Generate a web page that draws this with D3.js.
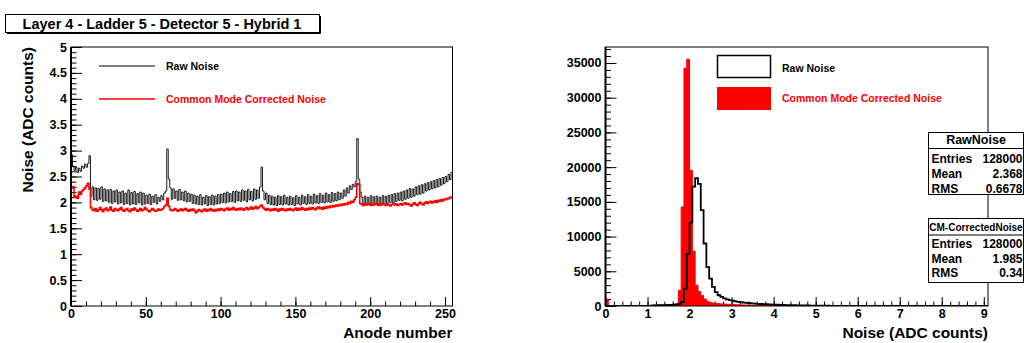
<!DOCTYPE html>
<html>
<head>
<meta charset="utf-8">
<script src="https://cdn.jsdelivr.net/npm/d3@7"></script>
<style>
  body { margin: 0; background: #fff; }
  svg { display: block; font-family: "Liberation Sans", Arial, Helvetica, sans-serif; font-weight: bold; }
</style>
</head>
<body>
<svg id="chart" width="1024" height="343"></svg>
<script>
// ---- data ----
// noise per anode channel (0..255)
let rawNoise = [
  2.92, 2.70, 2.62, 2.68, 2.58, 2.66, 2.60, 2.70, 2.66, 2.74, 2.68, 2.75, 2.90, 2.12, 2.30, 2.05,
  2.28, 2.04, 2.27, 2.06, 2.30, 2.02, 2.26, 2.03, 2.24, 2.00, 2.25, 1.98, 2.22, 2.01, 2.24, 1.97,
  2.20, 1.99, 2.22, 1.96, 2.18, 1.98, 2.24, 1.95, 2.19, 1.97, 2.21, 1.96, 2.17, 1.99, 2.20, 1.95,
  2.18, 1.97, 2.14, 1.98, 2.16, 1.96, 2.12, 2.00, 2.15, 1.97, 2.10, 2.02, 2.13, 2.05, 2.18, 2.22,
  3.03, 2.45, 2.28, 2.06, 2.26, 2.08, 2.22, 2.04, 2.25, 2.05, 2.20, 2.03, 2.22, 2.01, 2.18, 2.02,
  2.16, 1.98, 2.14, 1.97, 2.12, 1.96, 2.15, 1.95, 2.10, 1.97, 2.13, 1.94, 2.11, 1.96, 2.14, 1.95,
  2.12, 1.97, 2.15, 1.98, 2.16, 2.00, 2.18, 1.99, 2.20, 2.01, 2.17, 2.02, 2.21, 2.00, 2.22, 2.03,
  2.20, 2.02, 2.24, 2.04, 2.22, 2.01, 2.25, 2.05, 2.21, 2.03, 2.26, 2.06, 2.24, 2.08, 2.30, 2.68,
  2.22, 2.05, 2.18, 1.98, 2.14, 1.96, 2.12, 1.95, 2.10, 1.94, 2.13, 1.96, 2.11, 1.95, 2.14, 1.97,
  2.10, 1.95, 2.12, 1.96, 2.09, 1.94, 2.13, 1.97, 2.10, 1.95, 2.14, 1.98, 2.11, 1.96, 2.15, 1.98,
  2.12, 1.97, 2.16, 1.99, 2.13, 1.98, 2.17, 2.00, 2.14, 1.99, 2.18, 2.01, 2.15, 2.00, 2.19, 2.02,
  2.17, 2.03, 2.20, 2.05, 2.18, 2.08, 2.24, 2.12, 2.28, 2.18, 2.32, 2.25, 2.35, 2.30, 2.40, 3.23,
  2.45, 2.20, 2.10, 1.96, 2.12, 1.95, 2.10, 1.97, 2.13, 1.95, 2.11, 1.96, 2.12, 1.97, 2.10, 1.95,
  2.13, 1.98, 2.12, 1.97, 2.14, 2.00, 2.15, 1.99, 2.17, 2.02, 2.18, 2.04, 2.20, 2.03, 2.22, 2.06,
  2.24, 2.08, 2.27, 2.10, 2.26, 2.12, 2.30, 2.15, 2.32, 2.16, 2.34, 2.18, 2.36, 2.22, 2.38, 2.24,
  2.40, 2.26, 2.42, 2.28, 2.44, 2.30, 2.46, 2.33, 2.48, 2.36, 2.50, 2.40, 2.54, 2.44, 2.58, 2.62
];
let cmNoise = [
  2.28, 2.30, 2.10, 2.12, 2.08, 2.20, 2.16, 2.22, 2.25, 2.28, 2.32, 2.37, 2.26, 1.90, 1.86, 1.84,
  1.88, 1.83, 1.85, 1.90, 1.86, 1.82, 1.87, 1.89, 1.84, 1.86, 1.91, 1.85, 1.83, 1.88, 1.86, 1.84,
  1.87, 1.90, 1.85, 1.83, 1.86, 1.88, 1.84, 1.82, 1.87, 1.85, 1.89, 1.86, 1.83, 1.85, 1.88, 1.84,
  1.86, 1.90, 1.87, 1.84, 1.82, 1.85, 1.88, 1.86, 1.83, 1.84, 1.87, 1.85, 1.86, 1.88, 1.92, 1.95,
  2.08, 1.92, 1.86, 1.84, 1.85, 1.88, 1.86, 1.83, 1.85, 1.87, 1.84, 1.86, 1.88, 1.85, 1.83, 1.86,
  1.84, 1.87, 1.85, 1.80, 1.83, 1.86, 1.84, 1.82, 1.85, 1.87, 1.83, 1.86, 1.84, 1.88, 1.85, 1.83,
  1.86, 1.84, 1.87, 1.85, 1.88, 1.86, 1.84, 1.87, 1.89, 1.85, 1.88, 1.86, 1.90, 1.87, 1.85, 1.88,
  1.86, 1.89, 1.87, 1.85, 1.88, 1.90, 1.86, 1.88, 1.91, 1.87, 1.89, 1.92, 1.88, 1.90, 1.93, 1.95,
  1.90, 1.87, 1.85, 1.88, 1.86, 1.84, 1.87, 1.85, 1.88, 1.86, 1.83, 1.87, 1.85, 1.88, 1.86, 1.84,
  1.87, 1.85, 1.88, 1.86, 1.84, 1.87, 1.89, 1.85, 1.88, 1.86, 1.90, 1.87, 1.85, 1.88, 1.86, 1.89,
  1.87, 1.90, 1.88, 1.86, 1.89, 1.91, 1.88, 1.90, 1.87, 1.91, 1.89, 1.92, 1.90, 1.93, 1.91, 1.94,
  1.92, 1.95, 1.93, 1.96, 1.94, 1.97, 1.95, 1.98, 1.96, 2.00, 1.98, 2.02, 2.00, 2.05, 2.10, 2.36,
  2.34, 1.98, 1.96, 1.94, 1.97, 1.95, 1.98, 1.96, 1.94, 1.97, 1.95, 1.98, 1.96, 1.94, 1.97, 1.95,
  1.98, 1.96, 1.94, 1.97, 1.95, 1.93, 1.96, 1.98, 1.95, 1.97, 1.94, 1.96, 1.98, 1.95, 1.97, 1.99,
  1.96, 1.98, 1.95, 1.93, 1.97, 1.99, 1.96, 1.94, 1.98, 2.00, 1.97, 1.95, 1.99, 2.01, 1.98, 2.00,
  2.02, 1.99, 2.01, 2.03, 2.00, 2.04, 2.02, 2.05, 2.03, 2.06, 2.05, 2.08, 2.07, 2.10, 2.09, 2.12
];

// noise distributions: bin k covers [k*binWidth, (k+1)*binWidth], bins past the list are empty
let binWidth = 1 / 15;
let rawCounts = [
  0, 0, 0, 0, 0, 0, 0, 0, 0, 0, 0, 0, 0, 0, 0, 0,
  60, 80, 90, 110, 120, 140, 150, 170, 190, 220, 300, 576,
  2500, 7500, 12000, 17200, 18400, 17600, 13800, 9000, 5600, 3950, 2750, 2000, 1550, 1300,
  1100, 950, 850, 760, 680, 600, 540, 490, 440, 400, 370, 340, 310, 290, 270, 250,
  230, 210, 195, 180, 165, 150, 140, 130, 120, 110, 100, 90, 85, 80, 70, 65,
  60, 55, 50, 45, 40, 35, 30
];
let cmCounts = [
  970, 0, 0, 0, 0, 0, 0, 0, 0, 0, 0, 0, 0, 0, 0, 0,
  100, 120, 130, 140, 150, 160, 170, 190, 220, 280, 2260, 14260,
  34250, 35550, 19550, 7900, 3000, 2100, 1500, 1000, 650, 500, 430, 380, 340, 300,
  270, 250, 230, 210, 190, 170, 150, 140, 130, 120, 110, 100, 95, 90, 85, 80,
  75, 70, 65, 60, 55, 50, 45, 40
];

let legendLabels = ["Raw Noise", "Common Mode Corrected Noise"];
let rawStats = [["Entries", "128000"], ["Mean", "2.368"], ["RMS", "0.6678"]];
let cmStats = [["Entries", "128000"], ["Mean", "1.985"], ["RMS", "0.34"]];

// ---- layout ----
let svg = d3.select("#chart");
let left = {x0: 71, x1: 452.5, top: 47, bottom: 306},
    right = {x0: 605.5, x1: 988, top: 47, bottom: 306};

let xL = d3.scaleLinear().domain([0, 255]).range([left.x0, left.x1]),
    yL = d3.scaleLinear().domain([0, 5]).range([left.bottom, left.top]),
    xR = d3.scaleLinear().domain([0, 9.1]).range([right.x0, right.x1]),
    yR = d3.scaleLinear().domain([0, 37300]).range([right.bottom, right.top]);

function clip(id, box) {
  svg.append("clipPath").attr("id", id)
    .append("rect")
    .attr("x", box.x0).attr("y", box.top)
    .attr("width", box.x1 - box.x0).attr("height", box.bottom - box.top);
}
clip("clipL", left);
clip("clipR", right);

function draw_axis(transform, make, scale, major, minor, long, short, pad, fmt) {
  let g = svg.append("g").attr("transform", transform);
  g.append("g").call(make(scale).tickValues(minor).tickSize(-short).tickFormat(""));
  g.append("g").call(make(scale).tickValues(major).tickSize(-long).tickPadding(pad).tickFormat(fmt));
  g.selectAll(".domain").remove();
  g.selectAll("line").attr("stroke", "#000");
  g.selectAll("text")
    .style("font-family", '"Liberation Sans", Arial, sans-serif')
    .style("font-weight", "bold")
    .style("font-size", "12.5px")
    .attr("fill", "#000");
}

// ---- left: noise vs anode ----
draw_axis(`translate(${left.x0},0)`, d3.axisLeft, yL,
  d3.range(0, 5.001, 0.5), d3.range(0, 5.001, 0.1), 11, 5.5, 4, d => String(d));
draw_axis(`translate(0,${left.bottom})`, d3.axisBottom, xL,
  d3.range(0, 251, 50), d3.range(0, 256, 10), 9, 4.5, 3, d => String(d));

let stepLine = (xs, ys) => d3.line()
  .x(d => xs(d[0])).y(d => ys(d[1]))
  .curve(d3.curveStepAfter);

function channel_points(values) {
  let pts = values.map((v, i) => [i, v]);
  pts.push([values.length, values[values.length - 1]]);
  return pts;
}

svg.append("path")
  .attr("clip-path", "url(#clipL)")
  .attr("d", stepLine(xL, yL)(channel_points(rawNoise)))
  .attr("fill", "none").attr("stroke", "#000").attr("stroke-width", 0.9);
svg.append("path")
  .attr("clip-path", "url(#clipL)")
  .attr("d", stepLine(xL, yL)(channel_points(cmNoise)))
  .attr("fill", "none").attr("stroke", "#ff0000").attr("stroke-width", 1.6);

svg.append("rect")
  .attr("x", left.x0).attr("y", left.top)
  .attr("width", left.x1 - left.x0).attr("height", left.bottom - left.top)
  .attr("fill", "none").attr("stroke", "#000").attr("stroke-width", 1);
svg.append("line")
  .attr("x1", left.x0).attr("x2", left.x0).attr("y1", left.top).attr("y2", left.bottom)
  .attr("stroke", "#000").attr("stroke-width", 2);

// left legend
[["#000", 1, 66], ["#ff0000", 1.6, 99]].forEach((s, i) => {
  svg.append("line")
    .attr("x1", 99).attr("x2", 155).attr("y1", s[2]).attr("y2", s[2])
    .attr("stroke", s[0]).attr("stroke-width", s[1]);
  svg.append("text")
    .attr("x", 166).attr("y", s[2] + 4)
    .attr("font-size", 10.5).attr("fill", s[0])
    .text(legendLabels[i]);
});

svg.append("text")
  .attr("transform", `translate(33,${left.top}) rotate(-90)`)
  .attr("text-anchor", "end").attr("font-size", 15.5)
  .text("Noise (ADC counts)");
svg.append("text")
  .attr("x", left.x1).attr("y", 338)
  .attr("text-anchor", "end").attr("font-size", 15.5)
  .text("Anode number");

// title box
svg.append("rect")
  .attr("x", 5.5).attr("y", 14.5).attr("width", 314).attr("height", 18)
  .attr("fill", "#fff").attr("stroke", "#000").attr("stroke-width", 1);
svg.append("path")
  .attr("d", "M7,33.5H320.5V16")
  .attr("fill", "none").attr("stroke", "#000").attr("stroke-width", 1);
svg.append("text")
  .attr("x", 162).attr("y", 28.5)
  .attr("text-anchor", "middle").attr("font-size", 14.5)
  .text("Layer 4 - Ladder 5 - Detector 5 - Hybrid 1");

// ---- right: noise distribution ----
draw_axis(`translate(${right.x0},0)`, d3.axisLeft, yR,
  d3.range(0, 35001, 5000), d3.range(0, 37001, 1000), 11, 5.5, 4, d => String(d));
draw_axis(`translate(0,${right.bottom})`, d3.axisBottom, xR,
  d3.range(0, 9.001, 1), d3.range(0, 9.101, 0.2), 9, 4.5, 3, d => String(d));

function bin_points(counts) {
  let pts = counts.map((c, k) => [k * binWidth, c]);
  pts.push([counts.length * binWidth, 0]);
  pts.push([9.1, 0]);
  return pts;
}

let cmArea = d3.area()
  .x(d => xR(d[0])).y0(yR(0)).y1(d => yR(d[1]))
  .curve(d3.curveStepAfter);

svg.append("path")
  .attr("clip-path", "url(#clipR)")
  .attr("d", cmArea(bin_points(cmCounts)))
  .attr("fill", "#ff0000").attr("stroke", "#ff0000").attr("stroke-width", 1);
svg.append("path")
  .attr("clip-path", "url(#clipR)")
  .attr("d", stepLine(xR, yR)(bin_points(rawCounts)))
  .attr("fill", "none").attr("stroke", "#000").attr("stroke-width", 1.8);

svg.append("rect")
  .attr("x", right.x0).attr("y", right.top)
  .attr("width", right.x1 - right.x0).attr("height", right.bottom - right.top)
  .attr("fill", "none").attr("stroke", "#000").attr("stroke-width", 1);
svg.append("line")
  .attr("x1", right.x0).attr("x2", right.x0).attr("y1", right.top).attr("y2", right.bottom)
  .attr("stroke", "#000").attr("stroke-width", 2);

// right legend
svg.append("rect")
  .attr("x", 717.5).attr("y", 55.5).attr("width", 53).attr("height", 22)
  .attr("fill", "#fff").attr("stroke", "#000").attr("stroke-width", 1.5);
svg.append("rect")
  .attr("x", 717).attr("y", 87).attr("width", 54).attr("height", 23)
  .attr("fill", "#ff0000");
[["#000", 71.5], ["#ff0000", 102]].forEach((s, i) => {
  svg.append("text")
    .attr("x", 782).attr("y", s[1])
    .attr("font-size", 10.5).attr("fill", s[0])
    .text(legendLabels[i]);
});

svg.append("text")
  .attr("x", right.x1).attr("y", 338)
  .attr("text-anchor", "end").attr("font-size", 15.5)
  .text("Noise (ADC counts)");

// stats boxes
function stats_box(top, head, headSize, headBase, rows, rowBases, bottom) {
  let x0 = 928.5, x1 = 1023.5;
  svg.append("rect")
    .attr("x", x0).attr("y", top).attr("width", x1 - x0).attr("height", bottom - top)
    .attr("fill", "#fff").attr("stroke", "#000").attr("stroke-width", 1);
  svg.append("line")
    .attr("x1", x0).attr("x2", x1).attr("y1", headBase + 4.5).attr("y2", headBase + 4.5)
    .attr("stroke", "#000").attr("stroke-width", 1);
  svg.append("text")
    .attr("x", (x0 + x1) / 2).attr("y", headBase)
    .attr("text-anchor", "middle").attr("font-size", headSize)
    .text(head);
  rows.forEach((r, i) => {
    svg.append("text").attr("x", x0 + 3).attr("y", rowBases[i])
      .attr("font-size", 12).text(r[0]);
    svg.append("text").attr("x", x1 - 1).attr("y", rowBases[i])
      .attr("text-anchor", "end").attr("font-size", 12).text(r[1]);
  });
}
stats_box(132.5, "RawNoise", 12.5, 144, rawStats, [162.5, 178, 192.5], 194.5);
stats_box(218.5, "CM-CorrectedNoise", 10, 230.5, cmStats, [247.5, 262.5, 277], 282.5);
</script>
</body>
</html>
